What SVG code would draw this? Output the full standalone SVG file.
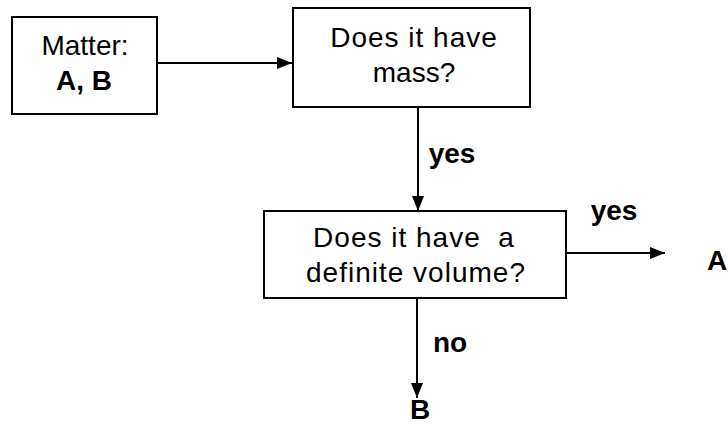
<svg xmlns="http://www.w3.org/2000/svg" width="728" height="426" viewBox="0 0 728 426">
<defs>
<style>
.box{fill:#fff;stroke:#000;stroke-width:2}
.t{font-family:"Liberation Sans",Arial,sans-serif;font-size:28px;fill:#000;text-anchor:middle}
.b{font-weight:bold}
.c{stroke:#000;stroke-width:2;fill:none}
</style>
<marker id="ah" markerWidth="16" markerHeight="12" refX="15" refY="6" orient="auto" markerUnits="userSpaceOnUse">
<path d="M0,0 L15,6 L0,12 Z" fill="#000"/>
</marker>
</defs>
<rect width="728" height="426" fill="#fff"/>
<g id="matter">
<rect class="box" x="12" y="17" width="145" height="97"/>
<text class="t" x="85" y="55">Matter:</text>
<text class="t b" x="84" y="90">A, B</text>
</g>
<g id="mass">
<rect class="box" x="293" y="8" width="237" height="99"/>
<text class="t" x="414" y="47" letter-spacing="1">Does it have</text>
<text class="t" x="414" y="82">mass?</text>
</g>
<g id="volume">
<rect class="box" x="264" y="211" width="302" height="87"/>
<text class="t" x="414" y="247" letter-spacing="1" xml:space="preserve">Does it have  a</text>
<text class="t" x="416" y="282" letter-spacing="1">definite volume?</text>
</g>
<g id="resultA">
<text class="t b" x="717" y="270">A</text>
</g>
<g id="resultB">
<text class="t b" x="420" y="419" font-size="26">B</text>
</g>
<g id="connectors">
<line class="c" x1="157" y1="63" x2="292" y2="63" marker-end="url(#ah)"/>
<line class="c" x1="418" y1="107" x2="418" y2="211" marker-end="url(#ah)"/>
<line class="c" x1="566" y1="253" x2="665" y2="253" marker-end="url(#ah)"/>
<line class="c" x1="417" y1="298" x2="417" y2="398" marker-end="url(#ah)"/>
<text class="t b" x="452" y="163">yes</text>
<text class="t b" x="614" y="220">yes</text>
<text class="t b" x="450" y="352">no</text>
</g>
</svg>
